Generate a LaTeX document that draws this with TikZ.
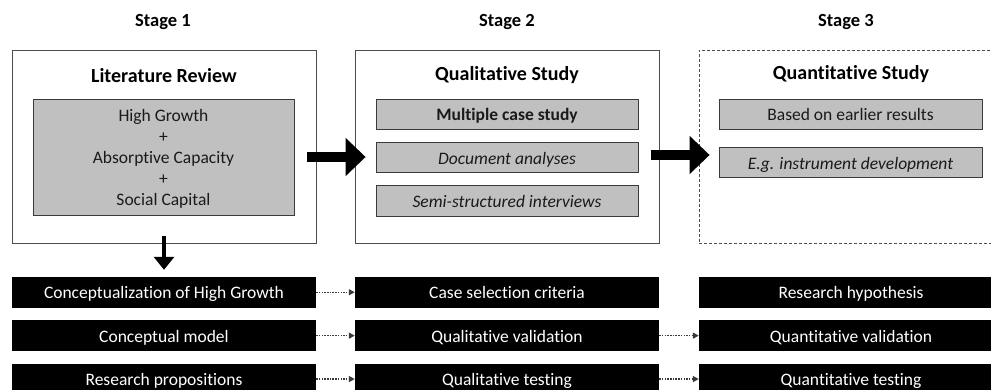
\documentclass[tikz,border=0pt]{standalone}
\usepackage{fontspec}
\setmainfont{Carlito}[Ligatures=NoCommon]
\usepackage{tikz}
\usetikzlibrary{arrows.meta,positioning,calc}
\definecolor{framegray}{HTML}{4D4D4D}
\definecolor{boxgray}{HTML}{C0C0C0}
\definecolor{boxborder}{HTML}{3A3A3A}
\definecolor{boxtext}{HTML}{1A1A1A}
\definecolor{linkgray}{HTML}{3A3A3A}

\begin{document}
\begin{tikzpicture}[
  x=1pt, y=-1pt,
  stagelabel/.style={font=\fontsize{18.5}{22}\selectfont\bfseries},
  stageframe/.style={rectangle, draw=framegray, line width=0.8pt, minimum width=304pt, minimum height=193pt, inner sep=0pt},
  frametitle/.style={font=\fontsize{20}{24}\selectfont\bfseries},
  content/.style={rectangle, draw=boxborder, fill=boxgray, text=boxtext, line width=0.8pt, minimum width=262pt, minimum height=30.5pt, inner sep=0pt, text height=16pt, text depth=3pt, font=\fontsize{17.5}{21}\selectfont, align=center},
  outcome/.style={rectangle, fill=black, text=white, minimum width=304pt, minimum height=30.5pt, inner sep=0pt, text height=16pt, text depth=3pt, font=\fontsize{17.5}{21}\selectfont},
  bigarrow/.style={line width=10pt, -{Triangle[length=20pt, width=37pt]}},
  downarrow/.style={line width=4pt, -{Triangle[length=13pt, width=20pt]}},
  linkarrow/.style={draw=linkgray, line width=1.4pt, dash pattern=on 1.5pt off 1.2pt, -{Triangle[length=6pt, width=6pt]}}
]
  \useasboundingbox (0,0) rectangle (991,390);
  \clip (0,0) rectangle (991,390);

  % Stage headings
  \node[stagelabel] (s1) at (163,22) {Stage 1};
  \node[stagelabel] (s2) at (507,22) {Stage 2};
  \node[stagelabel] (s3) at (846,22) {Stage 3};

  % Stage 1: Literature Review
  \node[stageframe] (lit) at (164,146.5) {};
  \node[frametitle] (littitle) at (164,76) {Literature Review};
  \node[content, minimum width=261pt, minimum height=116pt, text height=, text depth=] (litbox) at (163.5,157) {\rule{0pt}{15pt}High Growth\\+\\Absorptive Capacity\\+\\Social Capital};

  % Stage 2: Qualitative Study
  \node[stageframe] (qual) at (507,146.5) {};
  \node[frametitle] (qualtitle) at (507,75) {Qualitative Study};
  \node[content, font=\fontsize{17.5}{21}\selectfont\bfseries] (casestudy) at (507,114.25) {Multiple case study};
  \node[content, font=\fontsize{17.5}{21}\selectfont\itshape, below=12pt of casestudy] (docs) {Document analyses};
  \node[content, font=\fontsize{17.5}{21}\selectfont\itshape, below=12pt of docs] (interviews) {Semi-structured interviews};

  % Stage 3: Quantitative Study
  \node[stageframe, dashed, dash pattern=on 3pt off 2pt] (quant) at (851,146.5) {};
  \node[frametitle] (quanttitle) at (851,74) {Quantitative Study};
  \node[content, minimum width=263pt] (earlier) at (850.5,114.25) {Based on earlier results};
  \node[content, minimum width=263pt, font=\fontsize{17.5}{21}\selectfont\itshape, below=17pt of earlier] (instrument) {E.g. instrument development};

  % Outcomes per stage
  \node[outcome] (concept) at (164,292.25) {Conceptualization of High Growth};
  \node[outcome, below=12.5pt of concept] (model) {Conceptual model};
  \node[outcome, below=12.5pt of model] (props) {Research propositions};
  \node[outcome] (casesel) at (507,292.25) {Case selection criteria};
  \node[outcome, below=12.5pt of casesel] (qualval) {Qualitative validation};
  \node[outcome, below=12.5pt of qualval] (qualtest) {Qualitative testing};
  \node[outcome] (hypo) at (851,292.25) {Research hypothesis};
  \node[outcome, below=12.5pt of hypo] (quantval) {Quantitative validation};
  \node[outcome, below=12.5pt of quantval] (quanttest) {Quantitative testing};

  % Stage transitions
  \draw[bigarrow] ($(lit.east)+(-9,10.5)$) -- ($(qual.west)+(11,10.5)$);
  \draw[bigarrow] ($(qual.east)+(-8,8.5)$) -- ($(quant.west)+(11,8.5)$);
  \draw[downarrow] ($(lit.south)+(0,-7)$) -- ($(concept.north)+(0,-7)$);

  % Links between outcomes
  \draw[linkarrow] (concept) -- (casesel);
  \draw[linkarrow] (model) -- (qualval);
  \draw[linkarrow] (props) -- (qualtest);
  \draw[linkarrow] (qualval) -- (quantval);
  \draw[linkarrow] (qualtest) -- (quanttest);
\end{tikzpicture}
\end{document}
